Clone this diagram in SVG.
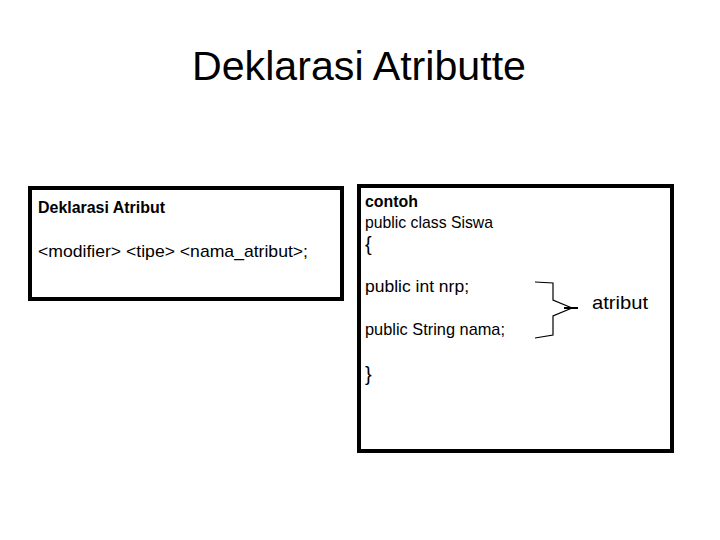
<svg xmlns="http://www.w3.org/2000/svg" width="720" height="540" viewBox="0 0 720 540">
<style>
.t{font-family:"Liberation Sans","DejaVu Sans",sans-serif;fill:#000}
.b{font-weight:bold}
.box{fill:#fff;stroke:#000;stroke-width:4}
</style>
<rect width="720" height="540" fill="#fff"/>
<text class="t" x="359" y="80" font-size="41" text-anchor="middle" textLength="334" lengthAdjust="spacingAndGlyphs">Deklarasi Atributte</text>
<g id="left">
<rect class="box" x="30" y="188" width="312" height="111"/>
<text class="t b" x="38" y="213" font-size="16" textLength="127" lengthAdjust="spacingAndGlyphs">Deklarasi Atribut</text>
<text class="t" x="38" y="257" font-size="17" textLength="270" lengthAdjust="spacingAndGlyphs">&lt;modifier&gt; &lt;tipe&gt; &lt;nama_atribut&gt;;</text>
</g>
<g id="right">
<rect class="box" x="359" y="186" width="313" height="265"/>
<text class="t b" x="365" y="207" font-size="16" textLength="53" lengthAdjust="spacingAndGlyphs">contoh</text>
<text class="t" x="365" y="228" font-size="17" textLength="128" lengthAdjust="spacingAndGlyphs">public class Siswa</text>
<text class="t" x="365" y="251" font-size="20">{</text>
<text class="t" x="365" y="292" font-size="17" textLength="104" lengthAdjust="spacingAndGlyphs">public int nrp;</text>
<text class="t" x="365" y="335" font-size="17" textLength="140" lengthAdjust="spacingAndGlyphs">public String nama;</text>
<text class="t" x="365" y="381" font-size="20">}</text>
</g>
<g id="connectors">
<path d="M535,282 L553,283 L553,300 L572,308 L553,316 L553,335 L535,338" fill="none" stroke="#000" stroke-width="1.2"/>
<line x1="564" y1="308" x2="578" y2="308" stroke="#000" stroke-width="2"/>
</g>
<g id="label">
<text class="t" x="592" y="309" font-size="19" textLength="56" lengthAdjust="spacingAndGlyphs">atribut</text>
</g>
</svg>
